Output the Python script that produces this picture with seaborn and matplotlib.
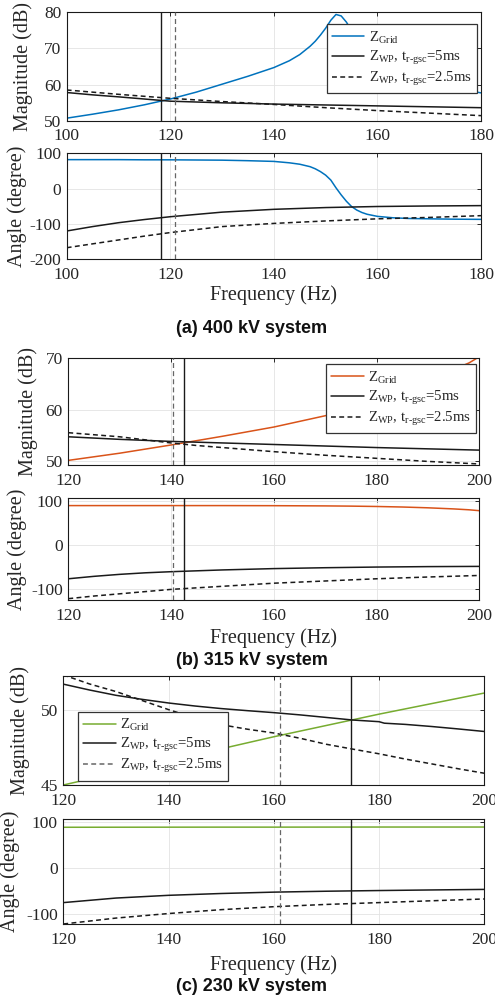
import numpy as np
import pandas as pd
import seaborn as sns
import matplotlib
matplotlib.use("Agg")
import matplotlib.pyplot as plt

# ---------------------------------------------------------------- data
# (a) 400 kV system
freq_a_grid = [100, 105, 110, 115, 120, 125, 130, 135, 140, 143, 145, 147, 148, 149,
               150, 151, 152, 153, 154, 155, 156, 157, 158, 160, 163, 166, 170, 175, 180]
mag_a_grid = [50.7, 51.8, 53.0, 54.4, 56.0, 57.9, 60.1, 62.3, 64.7, 66.6, 68.3, 70.6, 72.0, 73.7,
              75.6, 77.8, 79.4, 79.0, 77.3, 75.0, 72.6, 70.6, 69.0, 66.5, 64.0, 62.3, 60.6, 59.0, 57.7]
ang_a_grid = [82, 82, 82, 81.5, 81.5, 81, 80.5, 79, 77, 73, 69, 62, 56, 48,
              38, 24, 2, -18, -36, -51, -61, -68, -73, -79, -83, -85, -86, -87, -87.5]

freq_a_wp = [100, 105, 110, 115, 120, 130, 140, 150, 160, 170, 180]
mag_a_wp5 = [57.8, 57.15, 56.6, 56.0, 55.4, 54.95, 54.6, 54.35, 54.1, 53.85, 53.6]
mag_a_wp25 = [58.5, 57.9, 57.3, 56.75, 56.2, 55.3, 54.5, 53.6, 52.8, 52.1, 51.4]
ang_a_wp5 = [-120.5, -108, -97, -88, -80, -67, -59, -54, -51, -49.5, -48.5]
ang_a_wp25 = [-168, -157, -146, -135, -125, -108, -99, -92, -86, -82, -77]
cross_a = [118.2, 121.0]  # intersection frequencies (5 ms, 2.5 ms)

# (b) 315 kV system
freq_b_grid = [120, 130, 140, 150, 160, 170, 175, 180, 185, 190, 195, 198, 200]
mag_b_grid = [50.1, 51.5, 53.1, 54.8, 56.6, 58.8, 60.2, 61.8, 63.6, 65.6, 67.8, 69.1, 70.3]
ang_b_grid = [88.5, 88.5, 88.5, 88.5, 88.3, 87.8, 87.3, 86.5, 85.3, 83.5, 81, 79, 77]

freq_b_wp = [120, 125, 130, 135, 140, 145, 150, 160, 170, 180, 190, 200]
mag_b_wp5 = [54.7, 54.45, 54.2, 54.0, 53.8, 53.65, 53.5, 53.2, 52.9, 52.6, 52.35, 52.1]
mag_b_wp25 = [55.5, 55.1, 54.7, 54.1, 53.5, 53.0, 52.6, 51.8, 51.1, 50.5, 49.9, 49.4]
ang_b_wp5 = [-77, -71.5, -67, -63.5, -61, -59, -57, -54, -52, -50.5, -49.5, -49]
ang_b_wp25 = [-122, -116, -111, -106, -101, -97.5, -94, -87, -82, -77, -73, -69.5]
cross_b = [142.6, 140.4]

# (c) 230 kV system
freq_c_grid = [120, 130, 140, 150, 160, 170, 180, 190, 200]
mag_c_grid = [45.0, 45.8, 46.6, 47.4, 48.2, 48.95, 49.7, 50.4, 51.1]
ang_c_grid = [89.5, 89.6, 89.7, 89.8, 89.8, 89.9, 90, 90, 90]

freq_c_wp = [120, 125, 130, 135, 140, 145, 150, 155, 160, 165, 170, 175, 180, 181,
             185, 190, 195, 200]
mag_c_wp5 = [51.69, 51.3, 50.95, 50.68, 50.44, 50.24, 50.07, 49.93, 49.8, 49.65, 49.48,
             49.31, 49.2, 49.1, 49.02, 48.88, 48.72, 48.55]
mag_c_wp25 = [52.3, 51.7, 51.2, 50.6, 50.0, 49.45, 49.0, 48.7, 48.45, 48.1, 47.7, 47.38,
              47.07, 47.0, 46.72, 46.4, 46.08, 45.78]
freq_c_ang = [120, 130, 140, 150, 160, 170, 180, 190, 200]
ang_c_wp5 = [-76, -66, -60, -56, -53, -51, -49.5, -48.2, -47]
ang_c_wp25 = [-123, -110, -100, -91.5, -85, -80, -76, -72, -68]
cross_c = [174.7, 161.2]

titles = ["(a) 400 kV system", "(b) 315 kV system", "(c) 230 kV system"]
grid_colors = ["#0072BD", "#D95319", "#77AC30"]

# ---------------------------------------------------------------- style
sns.set_theme(style="white")
plt.rcParams.update({
    "font.family": ["Liberation Serif", "DejaVu Serif"],
    "mathtext.fontset": "custom",
    "mathtext.rm": "Liberation Serif",
    "mathtext.it": "Liberation Serif:italic",
    "axes.unicode_minus": False,
    "axes.edgecolor": "#1a1a1a",
    "axes.linewidth": 0.8,
    "xtick.color": "#262626",
    "ytick.color": "#262626",
    "axes.labelcolor": "#262626",
})

W, H = 495, 1001
fig = plt.figure(figsize=(W / 100, H / 100), dpi=100)


def add_ax(l, r, t, b):
    return fig.add_axes([l / W, 1 - b / H, (r - l) / W, (b - t) / H])


def style(ax, xlim, ylim, xticks, yticks):
    ax.set_xlim(*xlim)
    ax.set_ylim(*ylim)
    ax.set_xticks(xticks)
    ax.set_yticks(yticks)
    ax.grid(True, color="#e3e3e3", lw=0.6)
    ax.tick_params(direction="in", length=3, width=0.7, top=True, right=True,
                   labelsize=12.5)
    ax.tick_params(axis="x", pad=5.5)
    ax.tick_params(axis="y", pad=4.0)
    for s in ax.spines.values():
        s.set_visible(True)
        s.set_color("#1a1a1a")


def ylabel_at(ax, text, right_px, box):
    l, r, t, b = box
    ax.set_ylabel(text, fontsize=14.5)
    ax.yaxis.set_label_coords((right_px - l) / (r - l), 0.5)


def xlabel_at(ax, text, top_px, box):
    l, r, t, b = box
    ax.set_xlabel(text, fontsize=14.5)
    ax.xaxis.set_label_coords(0.5, -(top_px - b) / (b - t))


lab_grid = r"$\mathrm{Z_{Grid}}$"
lab_5 = r"$\mathrm{Z_{WP}}$, $\mathrm{t_{\text{r-gsc}}}$=5ms"
lab_25 = r"$\mathrm{Z_{WP}}$, $\mathrm{t_{\text{r-gsc}}}$=2.5ms"

panels = [
    dict(mag_box=(66.7, 481, 12.3, 120.7), ang_box=(66.7, 481, 153.3, 259),
         xlim=(100, 180), xticks=[100, 120, 140, 160, 180],
         mag_ylim=(50, 80), mag_yticks=[50, 60, 70, 80],
         ang_ylim=(-200, 100), ang_yticks=[-200, -100, 0, 100],
         fg=freq_a_grid, mg=mag_a_grid, ag=ang_a_grid,
         fw=freq_a_wp, m5=mag_a_wp5, m25=mag_a_wp25,
         fwa=freq_a_wp, a5=ang_a_wp5, a25=ang_a_wp25, cross=cross_a,
         leg=(326.7, 24.3), leg_dash="#1a1a1a",
         mag_lab=33, ang_lab=27, xlab_top=285, title_y=328.3),
    dict(mag_box=(68.3, 479.3, 358.3, 465), ang_box=(68.3, 479.3, 498.3, 600),
         xlim=(120, 200), xticks=[120, 140, 160, 180, 200],
         mag_ylim=(49.2, 70), mag_yticks=[50, 60, 70],
         ang_ylim=(-125, 105), ang_yticks=[-100, 0, 100],
         fg=freq_b_grid, mg=mag_b_grid, ag=ang_b_grid,
         fw=freq_b_wp, m5=mag_b_wp5, m25=mag_b_wp25,
         fwa=freq_b_wp, a5=ang_b_wp5, a25=ang_b_wp25, cross=cross_b,
         leg=(326, 364.3), leg_dash="#1a1a1a",
         mag_lab=38, ang_lab=27, xlab_top=628.3, title_y=660.7),
    dict(mag_box=(63.3, 484.3, 675.7, 785), ang_box=(63.3, 484.3, 819.3, 924),
         xlim=(120, 200), xticks=[120, 140, 160, 180, 200],
         mag_ylim=(45, 52.25), mag_yticks=[45, 50],
         ang_ylim=(-123, 107), ang_yticks=[-100, 0, 100],
         fg=freq_c_grid, mg=mag_c_grid, ag=ang_c_grid,
         fw=freq_c_wp, m5=mag_c_wp5, m25=mag_c_wp25,
         fwa=freq_c_ang, a5=ang_c_wp5, a25=ang_c_wp25, cross=cross_c,
         leg=(78.3, 711.7), leg_dash="#666666",
         mag_lab=30, ang_lab=20, xlab_top=955, title_y=986.7),
]

for p, color, title in zip(panels, grid_colors, titles):
    ax_m = add_ax(*p["mag_box"])
    ax_a = add_ax(*p["ang_box"])

    # magnitude
    sns.lineplot(x=p["fg"], y=p["mg"], ax=ax_m, color=color, lw=1.1, label=lab_grid)
    sns.lineplot(x=p["fw"], y=p["m5"], ax=ax_m, color="#1a1a1a", lw=1.1, label=lab_5)
    sns.lineplot(x=p["fw"], y=p["m25"], ax=ax_m, color="#1a1a1a", lw=1.1,
                 linestyle=(0, (3.2, 2.2)), label=lab_25)
    # angle
    sns.lineplot(x=p["fg"], y=p["ag"], ax=ax_a, color=color, lw=1.1)
    sns.lineplot(x=p["fwa"], y=p["a5"], ax=ax_a, color="#1a1a1a", lw=1.1)
    sns.lineplot(x=p["fwa"], y=p["a25"], ax=ax_a, color="#1a1a1a", lw=1.1,
                 linestyle=(0, (3.2, 2.2)))

    for ax in (ax_m, ax_a):
        ax.axvline(p["cross"][0], color="#1a1a1a", lw=1.0, zorder=3)
        ax.axvline(p["cross"][1], color="#666666", lw=0.9, ls=(0, (4, 2.5)), zorder=3)

    style(ax_m, p["xlim"], p["mag_ylim"], p["xticks"], p["mag_yticks"])
    style(ax_a, p["xlim"], p["ang_ylim"], p["xticks"], p["ang_yticks"])

    ylabel_at(ax_m, "Magnitude (dB)", p["mag_lab"], p["mag_box"])
    ylabel_at(ax_a, "Angle (degree)", p["ang_lab"], p["ang_box"])
    xlabel_at(ax_a, "Frequency (Hz)", p["xlab_top"], p["ang_box"])
    ax_m.set_xlabel("")

    l, r, t, b = p["mag_box"]
    lx, ly = p["leg"]
    leg = ax_m.legend(loc="upper left",
                      bbox_to_anchor=((lx - l) / (r - l), 1 - (ly - t) / (b - t)),
                      borderaxespad=0, fontsize=10.6, frameon=True, fancybox=False,
                      framealpha=1, edgecolor="#333333", handlelength=2.2,
                      handletextpad=0.3, labelspacing=0.22, borderpad=0.35)
    leg.get_frame().set_linewidth(0.9)
    leg.legend_handles[2].set_color(p["leg_dash"])

    fig.text(251.7 / W, 1 - p["title_y"] / H, title, ha="center", va="center",
             fontsize=13, fontweight="bold", family="Liberation Sans", color="#111111")

fig.savefig("out.png", dpi=100)
